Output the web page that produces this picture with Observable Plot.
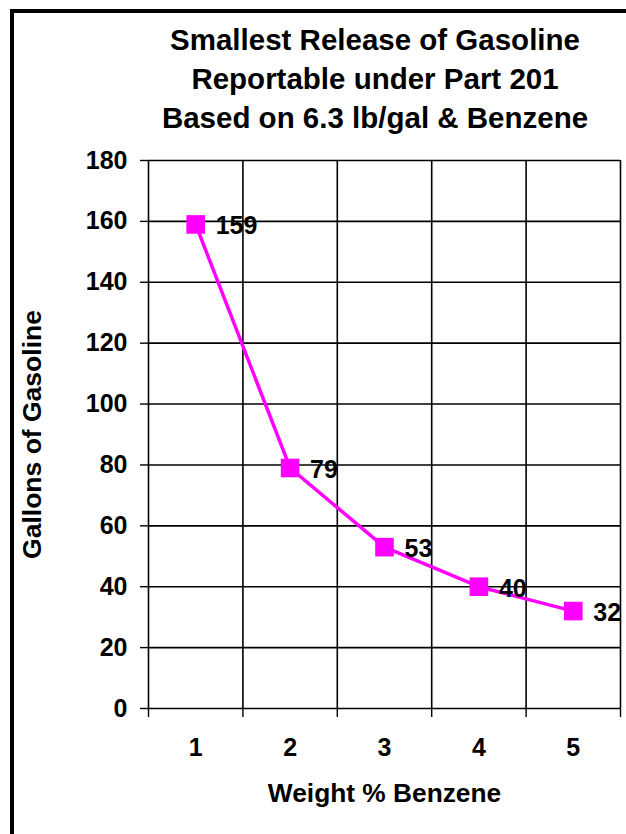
<!DOCTYPE html>
<html>
<head>
<meta charset="utf-8">
<script src="https://cdn.jsdelivr.net/npm/d3@7"></script>
<script src="https://cdn.jsdelivr.net/npm/@observablehq/plot@0.6"></script>
<style>
  html, body { margin: 0; padding: 0; background: #fff; }
  body { width: 626px; height: 834px; overflow: hidden; position: relative; font-family: "Liberation Sans", Arial, sans-serif; }
  #frame { position: absolute; left: 10px; top: 9px; width: 700px; height: 900px; border: 4px solid #000; box-sizing: border-box; pointer-events: none; }
  #title { position: absolute; left: 100px; width: 550px; top: 20px; text-align: center; font-weight: bold; font-size: 29.5px; line-height: 39px; color: #000; }
  #chart { position: absolute; left: 0; top: 140px; }
</style>
</head>
<body>
<div id="title">Smallest Release of Gasoline<br>Reportable under Part 201<br>Based on 6.3 lb/gal &amp; Benzene</div>
<div id="chart"></div>
<div id="frame"></div>
<script>
const weightPct = [1, 2, 3, 4, 5];
const gallons = [159, 79, 53, 40, 32];
const pointLabels = ["159", "79", "53", "40", "32"];
const yTicks = [0, 20, 40, 60, 80, 100, 120, 140, 160, 180];
const xBounds = [0.5, 1.5, 2.5, 3.5, 4.5, 5.5];
const xTickLabels = ["1", "2", "3", "4", "5"];

const data = weightPct.map((w, i) => ({w, g: gallons[i], label: pointLabels[i]}));
const xLab = weightPct.map((w, i) => ({w, t: xTickLabels[i]}));

const magenta = "#ff00ff";
const chart = Plot.plot({
  width: 626,
  height: 694,
  marginTop: 20,
  marginBottom: 126,
  marginLeft: 148,
  marginRight: 6,
  style: {fontFamily: "'Liberation Sans', Arial, sans-serif", fontWeight: "bold", color: "#000", background: "transparent"},
  x: {type: "linear", domain: [0.5, 5.5]},
  y: {domain: [0, 180]},
  marks: [
    Plot.gridX(xBounds, {stroke: "#000", strokeOpacity: 1, strokeWidth: 1.6}),
    Plot.gridY(yTicks, {stroke: "#000", strokeOpacity: 1, strokeWidth: 1.6}),
    Plot.axisY(yTicks, {tickSize: 8, tickPadding: 13, fontSize: 25, fontWeight: "bold", label: null, strokeWidth: 1.4}),
    Plot.axisX(xBounds, {tickSize: 9, tickFormat: () => "", label: null, strokeWidth: 1.4}),
    Plot.text(xLab, {x: "w", text: "t", frameAnchor: "bottom", lineAnchor: "middle", dy: 39, fontSize: 25, fontWeight: "bold", fill: "#000"}),
    Plot.text(["Weight % Benzene"], {frameAnchor: "bottom", textAnchor: "middle", lineAnchor: "middle", dy: 85, fontSize: 26.3, fontWeight: "bold", fill: "#000"}),
    Plot.text(["Gallons of Gasoline"], {frameAnchor: "left", textAnchor: "middle", lineAnchor: "middle", dx: -116, rotate: -90, fontSize: 26.5, fontWeight: "bold", fill: "#000"}),
    Plot.line(data, {x: "w", y: "g", stroke: magenta, strokeWidth: 3.5}),
    Plot.dot(data, {x: "w", y: "g", symbol: "square", r: 10.5, fill: magenta, stroke: "none"}),
    Plot.text(data, {x: "w", y: "g", text: "label", dx: 20, dy: 2, textAnchor: "start", fontSize: 25, fontWeight: "bold", fill: "#000"})
  ]
});
document.getElementById("chart").appendChild(chart);
</script>
</body>
</html>
